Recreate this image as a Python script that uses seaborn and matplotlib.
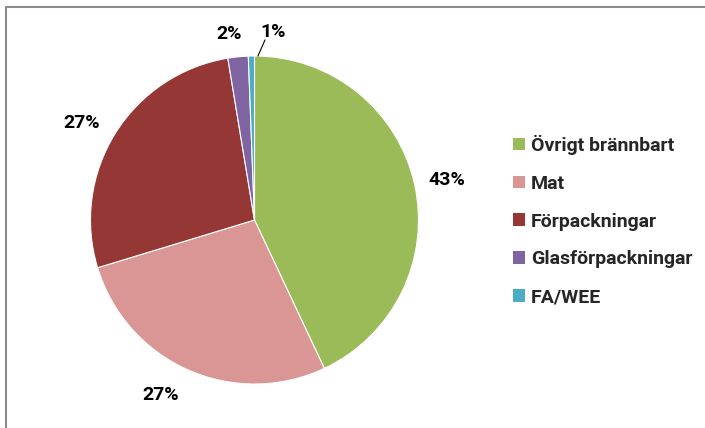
import matplotlib
matplotlib.use("Agg")
import matplotlib.pyplot as plt
import seaborn as sns
from matplotlib.patches import Patch

# ---- data ----
categories = ["Övrigt brännbart", "Mat", "Förpackningar", "Glasförpackningar", "FA/WEE"]
values = [43.0, 27.3, 27.1, 2.0, 0.6]
pct_labels = ["43%", "27%", "27%", "2%", "1%"]
colors = ["#9BBB59", "#D99694", "#953735", "#8064A2", "#4BACC6"]

sns.set_theme(style="white")
plt.rcParams["font.family"] = ["Roboto", "DejaVu Sans"]
fs = 14

W, H = 705, 428
fig = plt.figure(figsize=(W / 100, H / 100), dpi=100)
fig.patch.set_facecolor("white")

# border lines (top & left)
fig.add_artist(plt.Line2D([6 / W, 1], [1 - 7 / H, 1 - 7 / H], color="#8c8c8c", lw=1.5))
fig.add_artist(plt.Line2D([6 / W, 6 / W], [0, 1 - 7 / H], color="#8c8c8c", lw=1.5))

cx, cy, r = 254.5, 220, 164
ax = fig.add_axes([(cx - r) / W, (H - cy - r) / H, 2 * r / W, 2 * r / H])
wedges, _ = ax.pie(values, colors=colors, startangle=90, counterclock=False,
                   radius=1.0, wedgeprops=dict(edgecolor="white", linewidth=0.8))
ax.set_xlim(-1, 1)
ax.set_ylim(-1, 1)
ax.set_aspect("equal")
ax.axis("off")

# label positions (layout, in pie units)
label_pos = [(1.174, 0.244), (-0.57, -1.067), (-1.052, 0.591), (-0.155, 1.134), (0.113, 1.146)]
for txt, (x, y) in zip(pct_labels, label_pos):
    ax.text(x, y, txt, ha="center", va="center", fontsize=fs, fontweight="bold",
            color="black", clip_on=False)
# leader line for the smallest slice
ax.plot([0.021, 0.064], [1.0, 1.098], color="black", lw=0.8, clip_on=False)

handles = [Patch(facecolor=c, edgecolor="none") for c in colors]
fig.legend(handles, categories, loc="upper left", bbox_to_anchor=(505 / W, 1 - 127 / H),
           frameon=False, prop=dict(size=fs, weight="bold"),
           handlelength=0.62, handleheight=0.62, handletextpad=0.3, labelspacing=1.02,
           borderaxespad=0)

fig.savefig("out.png", dpi=100, facecolor="white")
